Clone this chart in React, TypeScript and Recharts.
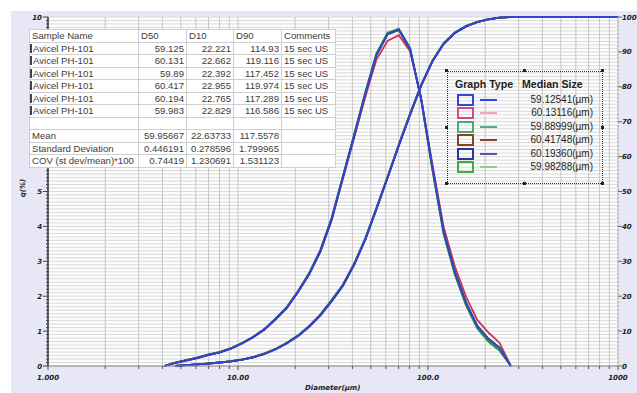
import React from 'react';
import { LineChart, Line, XAxis, YAxis, CartesianGrid } from 'recharts';

// particle size bins (um)
const sizes = [4.09, 4.66, 5.33, 6.10, 6.99, 8.01, 9.17, 10.50, 12.03, 13.78, 15.78, 18.07, 20.70, 23.71, 27.16, 31.10, 35.63, 40.81, 46.74, 53.53, 61.31, 70.22, 80.43, 92.13, 105.5, 120.9, 138.4, 158.6, 181.6, 208.0, 238.2, 272.9, 312.5, 400, 600, 1000];

// frequency q(%)
const freqBlue = [0.00, 0.09, 0.16, 0.23, 0.32, 0.39, 0.50, 0.65, 0.83, 1.05, 1.35, 1.67, 2.13, 2.64, 3.30, 4.20, 5.40, 6.58, 7.79, 8.91, 9.51, 9.63, 9.08, 7.64, 5.69, 3.85, 2.70, 1.81, 1.15, 0.78, 0.52, 0.00, null, null, null, null];
const freqPink = [0.00, 0.08, 0.15, 0.22, 0.31, 0.39, 0.50, 0.64, 0.82, 1.04, 1.33, 1.66, 2.11, 2.62, 3.27, 4.17, 5.36, 6.52, 7.70, 8.78, 9.32, 9.48, 9.02, 7.66, 5.78, 3.98, 2.86, 1.98, 1.32, 0.96, 0.66, 0.00, null, null, null, null];
const freqGreen = [0.00, 0.10, 0.17, 0.24, 0.33, 0.40, 0.51, 0.66, 0.84, 1.06, 1.36, 1.69, 2.15, 2.67, 3.33, 4.24, 5.44, 6.62, 7.83, 8.95, 9.55, 9.66, 9.12, 7.62, 5.62, 3.78, 2.62, 1.74, 1.08, 0.70, 0.44, 0.00, null, null, null, null];

// cumulative undersize (%)
const cumBlue = [null, 0.00, 0.25, 0.45, 0.70, 1.00, 1.30, 1.80, 2.50, 3.50, 4.80, 6.50, 8.60, 11.3, 14.6, 18.6, 23.0, 29.0, 36.2, 45.0, 54.0, 63.2, 72.0, 80.4, 87.3, 92.3, 95.4, 97.3, 98.5, 99.3, 99.8, 100, 100, 100, 100, 100];
const cumGreen = [null, 0.00, 0.27, 0.48, 0.74, 1.05, 1.36, 1.86, 2.58, 3.60, 4.92, 6.64, 8.78, 11.5, 14.8, 18.9, 23.3, 29.3, 36.5, 45.3, 54.3, 63.5, 72.3, 80.6, 87.5, 92.5, 95.6, 97.5, 98.6, 99.4, 99.8, 100, 100, 100, 100, 100];

const sampleNames = ['Avicel PH-101', 'Avicel PH-101', 'Avicel PH-101', 'Avicel PH-101', 'Avicel PH-101', 'Avicel PH-101'];
const d50 = ['59.125', '60.131', '59.89', '60.417', '60.194', '59.983'];
const d10 = ['22.221', '22.662', '22.392', '22.955', '22.765', '22.829'];
const d90 = ['114.93', '119.116', '117.452', '119.974', '117.289', '116.586'];
const comments = ['15 sec US', '15 sec US', '15 sec US', '15 sec US', '15 sec US', '15 sec US'];
const statNames = ['Mean', 'Standard Deviation', 'COV (st dev/mean)*100'];
const statD50 = ['59.95667', '0.446191', '0.74419'];
const statD10 = ['22.63733', '0.278596', '1.230691'];
const statD90 = ['117.5578', '1.799965', '1.531123'];
const medianSizes = ['59.12541', '60.13116', '59.88999', '60.41748', '60.19360', '59.98288'];

const xMajorTicks = [1, 10, 100, 1000];
const xMajorLabels = ['1.000', '10.00', '100.0', '1000'];
const yLeftLabels = [0, 1, 2, 3, 4, 5, 6, 7, 8, 9, 10];
const yLeftHidden = [6, 7, 8, 9]; // labels sitting under the results table
const yRightLabels = [0, 10, 20, 30, 40, 50, 60, 70, 80, 90, 100];

const samples = [
  { key: 's1', freq: freqBlue, cum: cumBlue, color: '#2f45d8', box: '#3344dd', legendLine: '#3344ee' },
  { key: 's2', freq: freqPink, cum: cumBlue, color: '#c8384e', box: '#d84488', legendLine: '#f2a6c6' },
  { key: 's3', freq: freqGreen, cum: cumGreen, color: '#3a9a6a', box: '#44aa77', legendLine: '#55aa88' },
  { key: 's4', freq: freqBlue, cum: cumBlue, color: '#7a4020', box: '#884422', legendLine: '#884422' },
  { key: 's5', freq: freqBlue, cum: cumBlue, color: '#34348a', box: '#333399', legendLine: '#5858a8' },
  { key: 's6', freq: freqGreen, cum: cumGreen, color: '#2f9a3a', box: '#44aa44', legendLine: '#90cc90' },
];
const drawOrder = [3, 2, 5, 1, 4, 0];

const data = sizes.map((size, i) => {
  const row: any = { size };
  samples.forEach((s) => {
    row['q_' + s.key] = s.freq[i];
    row['c_' + s.key] = s.cum[i];
  });
  return row;
});

const xTicks: number[] = [];
xMajorTicks.forEach((d, i) => {
  xTicks.push(d);
  if (i < xMajorTicks.length - 1) for (let k = 2; k <= 9; k++) xTicks.push(d * k);
});
const yLeftTicks: number[] = [];
for (let i = 0; i <= 100; i++) yLeftTicks.push(i / 10);

const tickFont = { fontFamily: 'DejaVu Sans, sans-serif', fontSize: 7, fontWeight: 700, fontStyle: 'italic' as const, fill: '#222' };

const XTick = (props: any) => {
  const { x, y, payload } = props;
  const idx = xMajorTicks.indexOf(payload.value);
  return (
    <g>
      <line x1={x} x2={x} y1={y} y2={y + (idx >= 0 ? 4 : 3)} stroke="#555" />
      {idx >= 0 && (
        <text x={x} y={y + 14} textAnchor="middle" {...tickFont}>{xMajorLabels[idx]}</text>
      )}
    </g>
  );
};

const LeftTick = (props: any) => {
  const { x, y, payload } = props;
  const v = Math.round(payload.value * 10);
  const major = v % 10 === 0;
  const label = yLeftLabels[v / 10];
  return (
    <g>
      <line x1={x - (major ? 5 : 2)} x2={x} y1={y} y2={y} stroke="#444" />
      {major && yLeftHidden.indexOf(label) < 0 && (
        <text x={x - 6} y={y + 2.5} textAnchor="end" {...tickFont}>{label}</text>
      )}
    </g>
  );
};

const RightTick = (props: any) => {
  const { x, y, payload } = props;
  return (
    <g>
      <line x1={x} x2={x + 4} y1={y} y2={y} stroke="#666" />
      <text x={x + 4} y={y + 2.5} textAnchor="start" {...tickFont}>{payload.value}</text>
    </g>
  );
};

const colW = [109, 48, 47, 48, 54];
const cell = (w: number, align: 'left' | 'right'): React.CSSProperties => ({
  width: w,
  maxWidth: w,
  boxSizing: 'border-box',
  border: '1px solid #cfcfcf',
  padding: '0 2px',
  textAlign: align,
  whiteSpace: 'nowrap',
  overflow: 'hidden',
  height: 12.5,
  lineHeight: '11.5px',
});

function DataTable() {
  const rowBar = <span style={{ display: 'inline-block', width: 2, height: 9, background: '#444', marginRight: 1, verticalAlign: -1 }} />;
  return (
    <table
      style={{
        position: 'absolute', left: 29, top: 29, width: colW.reduce((a, b) => a + b, 0), borderCollapse: 'collapse', tableLayout: 'fixed',
        background: '#fff', fontFamily: 'Liberation Sans, Arial, sans-serif', fontSize: 9.6, color: '#3c3c3c',
      }}
    >
      <colgroup>
        {colW.map((w, j) => <col key={j} style={{ width: w }} />)}
      </colgroup>
      <tbody>
        <tr>
          <td style={cell(colW[0], 'left')}>Sample Name</td>
          <td style={cell(colW[1], 'left')}>D50</td>
          <td style={cell(colW[2], 'left')}>D10</td>
          <td style={cell(colW[3], 'left')}>D90</td>
          <td style={cell(colW[4], 'left')}>Comments</td>
        </tr>
        {sampleNames.map((n, i) => (
          <tr key={i}>
            <td style={{ ...cell(colW[0], 'left'), paddingLeft: 0 }}>{rowBar}{n}</td>
            <td style={cell(colW[1], 'right')}>{d50[i]}</td>
            <td style={cell(colW[2], 'right')}>{d10[i]}</td>
            <td style={cell(colW[3], 'right')}>{d90[i]}</td>
            <td style={cell(colW[4], 'left')}>{comments[i]}</td>
          </tr>
        ))}
        <tr>
          {colW.map((w, j) => <td key={j} style={cell(w, 'left')} />)}
        </tr>
        {statNames.map((n, i) => (
          <tr key={'s' + i}>
            <td style={cell(colW[0], 'left')}>{n}</td>
            <td style={cell(colW[1], 'right')}>{statD50[i]}</td>
            <td style={cell(colW[2], 'right')}>{statD10[i]}</td>
            <td style={cell(colW[3], 'right')}>{statD90[i]}</td>
            <td style={cell(colW[4], 'left')} />
          </tr>
        ))}
      </tbody>
    </table>
  );
}

function LegendBox() {
  const left = 447, top = 71, w = 156, h = 113;
  const handles = [
    [0, 0], [0.5, 0], [1, 0], [0, 0.5], [1, 0.5], [0, 1], [0.5, 1], [1, 1],
  ];
  const rowY = [99.5, 113, 126.7, 140.3, 153.7, 167];
  const font = { fontFamily: 'Liberation Sans, Arial, sans-serif', color: '#1e1e1e' };
  return (
    <>
      <div style={{ position: 'absolute', left, top, width: w, height: h, border: '1px dotted #333', boxSizing: 'border-box' }} />
      {handles.map(([fx, fy], i) => (
        <div key={i} style={{ position: 'absolute', left: left + fx * w - 2, top: top + fy * h - 2, width: 3, height: 3, background: '#222' }} />
      ))}
      <div style={{ ...font, position: 'absolute', left: 455, top: 78, fontSize: 10.6, fontWeight: 700, lineHeight: '13px' }}>Graph Type</div>
      <div style={{ ...font, position: 'absolute', left: 522, top: 78, fontSize: 10.6, fontWeight: 700, lineHeight: '13px' }}>Median Size</div>
      {samples.map((s, i) => (
        <React.Fragment key={s.key}>
          <div style={{ position: 'absolute', left: 457, top: rowY[i] - 6, width: 17, height: 12, border: `2px solid ${s.box}`, boxSizing: 'border-box' }} />
          <div style={{ position: 'absolute', left: 480, top: rowY[i] - 1, width: 17, height: 2, background: s.legendLine }} />
          <div style={{ ...font, position: 'absolute', left: 500, width: 93, top: rowY[i] - 7, fontSize: 10, lineHeight: '13px', textAlign: 'right' }}>
            {medianSizes[i]}(µm)
          </div>
        </React.Fragment>
      ))}
    </>
  );
}

export default function App() {
  return (
    <div style={{ position: 'absolute', left: 0, top: 0, width: 637, height: 393, background: '#fff', overflow: 'hidden' }}>
      <div style={{ position: 'absolute', left: 11, top: 11, width: 626, height: 382, background: '#e7e7f6' }} />
      <div style={{ position: 'absolute', left: 0, top: 0 }}>
        <LineChart width={637} height={393} data={data} margin={{ top: 17, right: 0, bottom: 0, left: 0 }}>
          <CartesianGrid yAxisId="q" vertical={false} stroke="#d9d9d9" fill="#fdfdfd" />
          <CartesianGrid yAxisId="q" horizontal={false} stroke="#c6c6c6" />
          <XAxis
            dataKey="size"
            type="number"
            scale="log"
            domain={[1, 1000]}
            ticks={xTicks}
            interval={0}
            height={27}
            tickSize={0}
            tickMargin={0}
            tick={XTick}
            axisLine={{ stroke: '#888' }}
            allowDataOverflow
          />
          <YAxis
            yAxisId="q"
            orientation="left"
            width={48}
            domain={[0, 10]}
            ticks={yLeftTicks}
            interval={0}
            tickSize={0}
            tickMargin={0}
            tick={LeftTick}
            axisLine={{ stroke: '#333', strokeWidth: 1.5 }}
          />
          <YAxis
            yAxisId="c"
            orientation="right"
            width={19}
            domain={[0, 100]}
            ticks={yRightLabels}
            interval={0}
            tickSize={0}
            tickMargin={0}
            tick={RightTick}
            axisLine={{ stroke: '#aaa', strokeDasharray: '2 2' }}
          />
          {drawOrder.map((i) => {
            const s = samples[i];
            return (
              <Line
                key={'c' + s.key}
                yAxisId="c"
                type="linear"
                dataKey={'c_' + s.key}
                stroke={s.color}
                strokeWidth={1.8}
                dot={false}
                isAnimationActive={false}
              />
            );
          })}
          {drawOrder.map((i) => {
            const s = samples[i];
            return (
              <Line
                key={'q' + s.key}
                yAxisId="q"
                type="linear"
                dataKey={'q_' + s.key}
                stroke={s.color}
                strokeWidth={1.8}
                dot={false}
                isAnimationActive={false}
              />
            );
          })}
        </LineChart>
      </div>
      <DataTable />
      <LegendBox />
      <div style={{ position: 'absolute', left: 14, top: 184, transform: 'rotate(-90deg)', fontFamily: 'DejaVu Sans, sans-serif', fontSize: 7, fontWeight: 700, fontStyle: 'italic', color: '#222' }}>
        q(%)
      </div>
      <div style={{ position: 'absolute', left: 305, top: 384, fontFamily: 'DejaVu Sans, sans-serif', fontSize: 7, fontWeight: 700, fontStyle: 'italic', color: '#222' }}>
        Diameter(µm)
      </div>
    </div>
  );
}
